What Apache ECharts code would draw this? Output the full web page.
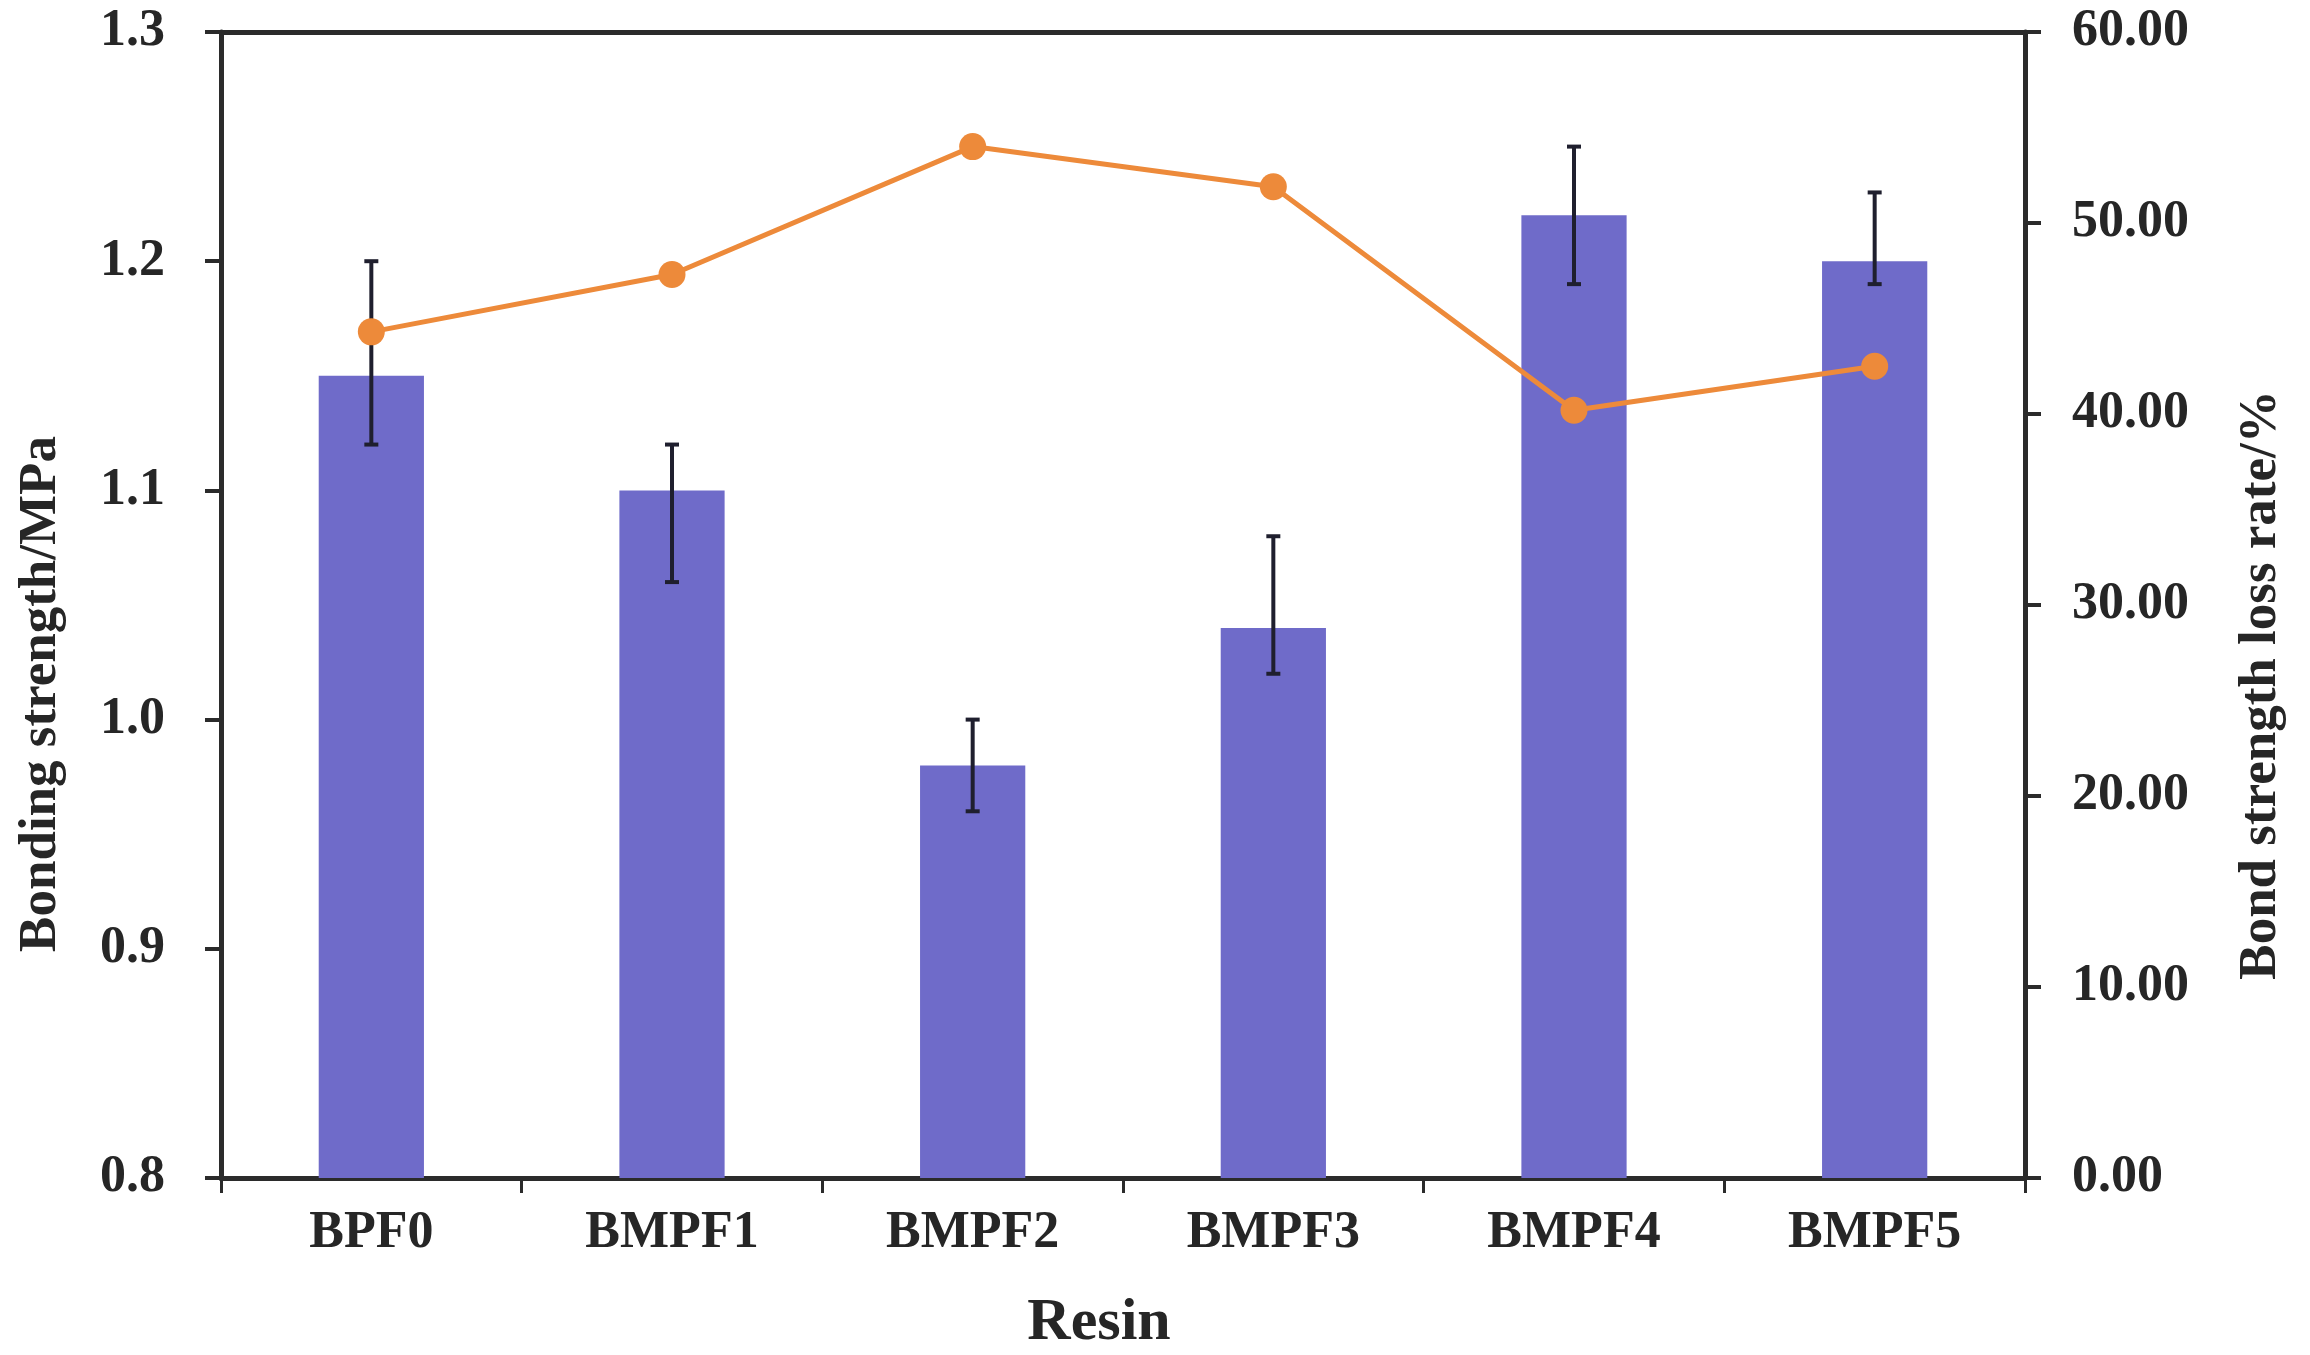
<!DOCTYPE html>
<html>
<head>
<meta charset="utf-8">
<script src="https://cdn.jsdelivr.net/npm/echarts@6/dist/echarts.min.js"></script>
<style>html,body{margin:0;padding:0;background:#fff;}#chart{width:2310px;height:1355px;}</style>
</head>
<body>
<div id="chart"></div>
<script>
const categories = ['BPF0', 'BMPF1', 'BMPF2', 'BMPF3', 'BMPF4', 'BMPF5'];
const bondStrength = [1.15, 1.10, 0.98, 1.04, 1.22, 1.20];
const errLow = [1.12, 1.06, 0.96, 1.02, 1.19, 1.19];
const errHigh = [1.20, 1.12, 1.00, 1.08, 1.25, 1.23];
const lossRate = [44.3, 47.3, 54.0, 51.9, 40.2, 42.5];

const FONT = '"Liberation Serif", "Times New Roman", serif';
const TXT = '#262626';
const AX = '#2b2b2b';

const chart = echarts.init(document.getElementById('chart'));
const errData = categories.map((c, i) => [i, errLow[i], errHigh[i]]);

chart.setOption({
  backgroundColor: '#ffffff',
  animation: false,
  grid: { left: 221, right: 285, top: 32, bottom: 177, containLabel: false },
  xAxis: [{
    type: 'category',
    data: categories,
    boundaryGap: true,
    axisLine: { show: true, lineStyle: { color: AX, width: 5 } },
    axisTick: { show: true, inside: false, length: 15, lineStyle: { color: AX, width: 3 } },
    axisLabel: { margin: 30, fontFamily: FONT, fontWeight: 'bold', fontSize: 52, color: TXT },
    splitLine: { show: false }
  }, {
    type: 'category',
    data: categories,
    position: 'top',
    axisLine: { show: true, lineStyle: { color: AX, width: 5 } },
    axisTick: { show: false },
    axisLabel: { show: false },
    splitLine: { show: false }
  }],
  yAxis: [{
    type: 'value',
    min: 0.8, max: 1.3, interval: 0.1,
    position: 'left',
    axisLine: { show: true, lineStyle: { color: AX, width: 5 } },
    axisTick: { show: true, inside: false, length: 16, lineStyle: { color: AX, width: 4 } },
    axisLabel: { margin: 56, fontFamily: FONT, fontWeight: 'bold', fontSize: 52, color: TXT,
      formatter: v => v.toFixed(1) },
    splitLine: { show: false }
  }, {
    type: 'value',
    min: 0, max: 60, interval: 10,
    position: 'right',
    axisLine: { show: true, lineStyle: { color: AX, width: 5 } },
    axisTick: { show: true, inside: false, length: 16, lineStyle: { color: AX, width: 4 } },
    axisLabel: { margin: 47, fontFamily: FONT, fontWeight: 'bold', fontSize: 52, color: TXT,
      formatter: v => v.toFixed(2) },
    splitLine: { show: false }
  }],
  graphic: [{
    type: 'text', x: 41, y: 694, rotation: Math.PI / 2,
    style: { text: 'Bonding strength/MPa', font: 'bold 53px ' + FONT, fill: TXT,
      textAlign: 'center', textVerticalAlign: 'middle' }
  }, {
    type: 'text', x: 2261, y: 685, rotation: Math.PI / 2,
    style: { text: 'Bond strength loss rate/%', font: 'bold 53px ' + FONT, fill: TXT,
      textAlign: 'center', textVerticalAlign: 'middle' }
  }, {
    type: 'text', x: 1099, y: 1323,
    style: { text: 'Resin', font: 'bold 60px ' + FONT, fill: TXT,
      textAlign: 'center', textVerticalAlign: 'middle' }
  }],
  series: [{
    type: 'bar',
    name: 'Bonding strength',
    data: bondStrength,
    xAxisIndex: 0, yAxisIndex: 0,
    barWidth: '35%',
    itemStyle: { color: '#6F6BC9' },
    z: 2
  }, {
    type: 'custom',
    name: 'error',
    xAxisIndex: 0, yAxisIndex: 0,
    data: errData,
    z: 3,
    renderItem: function (params, api) {
      const x = api.value(0);
      const lo = api.coord([x, api.value(1)]);
      const hi = api.coord([x, api.value(2)]);
      const cap = 7;
      const st = { stroke: '#1f1f2e', lineWidth: 4 };
      return {
        type: 'group',
        children: [
          { type: 'line', shape: { x1: hi[0], y1: hi[1], x2: lo[0], y2: lo[1] }, style: st },
          { type: 'line', shape: { x1: hi[0] - cap, y1: hi[1], x2: hi[0] + cap, y2: hi[1] }, style: st },
          { type: 'line', shape: { x1: lo[0] - cap, y1: lo[1], x2: lo[0] + cap, y2: lo[1] }, style: st }
        ]
      };
    }
  }, {
    type: 'line',
    name: 'Loss rate',
    data: lossRate,
    xAxisIndex: 0, yAxisIndex: 1,
    symbol: 'circle',
    symbolSize: 27,
    lineStyle: { color: '#ED8A3A', width: 5 },
    itemStyle: { color: '#ED8A3A' },
    z: 5
  }]
});
</script>
</body>
</html>
